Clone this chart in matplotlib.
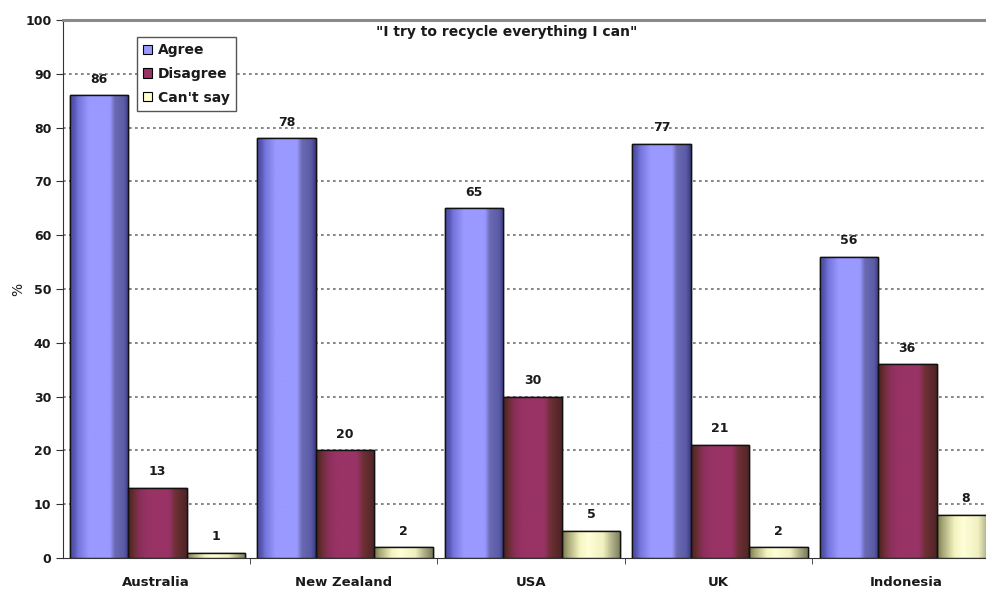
import numpy as np
import matplotlib
matplotlib.use("Agg")
import matplotlib.pyplot as plt
from matplotlib.colors import LinearSegmentedColormap
from matplotlib.patches import Patch

countries = ["Australia", "New Zealand", "USA", "UK", "Indonesia"]
series = ["Agree", "Disagree", "Can't say"]
agree = [86, 78, 65, 77, 56]
disagree = [13, 20, 30, 21, 36]
cant_say = [1, 2, 5, 2, 8]
values = [agree, disagree, cant_say]
title = '"I try to recycle everything I can"'
yticks = [0, 10, 20, 30, 40, 50, 60, 70, 80, 90, 100]

base_colors = ["#9999FF", "#993366", "#FFFFCC"]
grad_stops = [
    [(0.0, "#48489a"), (0.08, "#5a5ab8"), (0.14, "#7474dc"), (0.32, "#9999ff"),
     (0.68, "#9999ff"), (0.76, "#6b6bb4"), (0.92, "#5a5aa6"), (1.0, "#3a3a80")],
    [(0.0, "#4a2222"), (0.1, "#6a2e34"), (0.2, "#8a2f5a"), (0.35, "#993366"),
     (0.7, "#993366"), (0.8, "#6e3036"), (1.0, "#4e2424")],
    [(0.0, "#77774a"), (0.1, "#a8a878"), (0.3, "#f4f4c0"), (0.45, "#ffffd8"),
     (0.7, "#f0f0c0"), (0.85, "#b0b088"), (1.0, "#7a7a5a")],
]
cmaps = [LinearSegmentedColormap.from_list(f"g{i}", s) for i, s in enumerate(grad_stops)]

plt.rcParams['font.family'] = ['DejaVu Sans']
txt_color = "#1a1a1a"

W, H = 987, 589
fig = plt.figure(figsize=(W / 100, H / 100), dpi=100)
ax_left, ax_right = 62.5, 999.5
ax_top, ax_bot = 20, 558
ax = fig.add_axes([ax_left / W, 1 - ax_bot / H, (ax_right - ax_left) / W, (ax_bot - ax_top) / H])

n = len(countries)
x = np.arange(n)
bw = 0.312
start = 0.04
grad = np.linspace(0, 1, 256).reshape(1, -1)

for j, (vals, col, cm) in enumerate(zip(values, base_colors, cmaps)):
    centers = x + start + bw / 2 + j * bw
    bars = ax.bar(centers, vals, width=bw, color=col, edgecolor="black",
                  linewidth=1.0, zorder=3)
    for rect in bars:
        bx, by = rect.get_x(), rect.get_y()
        w, h = rect.get_width(), rect.get_height()
        im = ax.imshow(grad, extent=[bx, bx + w, by, by + h], aspect="auto",
                       cmap=cm, zorder=3.5, interpolation="bilinear")
        im.set_clip_path(rect)
        outline = plt.Rectangle((bx, by), w, h, fill=False, edgecolor="#111111",
                                linewidth=1.0, zorder=4)
        ax.add_patch(outline)
    ax.bar_label(bars, labels=[str(v) for v in vals], padding=7, fontsize=9,
                 fontweight="bold", color=txt_color, zorder=5)

ax.set_xlim(0, n)
ax.set_ylim(0, 100)
ax.set_aspect("auto")
ax.set_yticks(yticks)
ax.set_yticklabels([str(t) for t in yticks], fontsize=9, fontweight="bold", color=txt_color)
ax.set_xticks(x + 0.5)
ax.set_xticklabels(countries, fontsize=9.5, fontweight="bold", color=txt_color)
ax.set_xticks(np.arange(1, n), minor=True)
ax.tick_params(axis="x", which="major", length=0, pad=13)
ax.tick_params(axis="x", which="minor", length=4, direction="out", color="#333333")
ax.tick_params(axis="y", length=5, direction="out", color="#333333", pad=3)

for yv in yticks[1:-1]:
    ax.axhline(yv, color="#707070", linewidth=1.2, linestyle=(0, (1.6, 2.0)), zorder=1)

ax.spines["top"].set_color("#8a8a8a")
ax.spines["top"].set_linewidth(2.2)
ax.spines["right"].set_visible(False)
ax.spines["left"].set_color("#333333")
ax.spines["bottom"].set_color("#333333")

ax.set_ylabel("%", fontsize=10, color=txt_color, labelpad=0)

ax.text((507 - ax_left) / (ax_right - ax_left), (ax_bot - 32) / (ax_bot - ax_top), title,
        transform=ax.transAxes, ha="center", va="center", fontsize=10,
        fontweight="bold", color=txt_color)

handles = [Patch(facecolor=c, edgecolor="black", linewidth=0.8) for c in base_colors]
leg = ax.legend(handles, series, loc="upper left",
                bbox_to_anchor=((137 - ax_left) / (ax_right - ax_left), (ax_bot - 37) / (ax_bot - ax_top)),
                borderaxespad=0, fancybox=False, frameon=True, edgecolor="#555555",
                prop={"size": 10, "weight": "bold"}, handlelength=0.65, handleheight=0.65,
                handletextpad=0.4, labelspacing=0.7, borderpad=0.45, framealpha=1)
leg.get_frame().set_linewidth(1.0)
for t in leg.get_texts():
    t.set_color(txt_color)
leg.set_zorder(6)

fig.savefig("out.png", dpi=100)
